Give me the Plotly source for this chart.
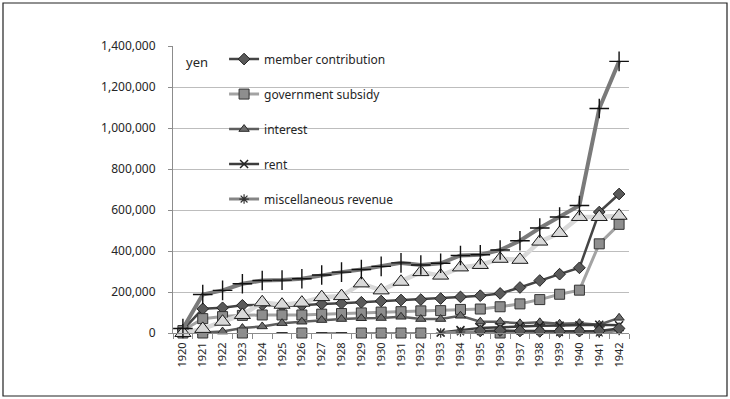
import plotly.graph_objects as go

# Revenue by year, in yen
years = [str(y) for y in range(1920, 1943)]

member_contribution = [15000, 118000, 123000, 135000, 138000, 132000, 135000, 142000, 145000, 150000, 156000, 161000,
                       163000, 168000, 176000, 182000, 193000, 222000, 256000, 287000, 318000, 590000, 678000]
government_subsidy = [12000, 70000, 80000, 86000, 88000, 88000, 88000, 92000, 95000, 98000, 102000, 104000,
                      108000, 109000, 115000, 117000, 128000, 142000, 163000, 189000, 209000, 435000, 530000]
interest = [5000, 3000, 7000, 24000, 32000, 48000, 55000, 63000, 68000, 72000, 73000, 79000,
            68000, 68000, 84000, 55000, 55000, 47000, 52000, 45000, 48000, 40000, 74000]
rent = [None] * 13 + [2000, 14000, 25000, 28000, 33000, 35000, 36000, 38000, 40000, 38000]
misc_revenue = [None] * 13 + [0, 5000, 6000, 6000, 8000, 8000, 2000, 8000, 0, 12000]

# Further series plotted without legend entries
other_a = [0, 0, None, 0, None, None, 0, None, None, 0, 0, 0, 0, None, None, None, 0, None, None, None, None, None, None]
other_b = [None] * 5 + [0, None, 0, 0] + [None] * 14
other_c = [None] * 15 + [10000, 12000, 10000, 8000, 8000, 9000, 10000, 22000]
series_6 = [0, 20000, 55000, 88000, 150000, 138000, 148000, 175000, 180000, 242000, 208000, 250000,
            297000, 280000, 320000, 332000, 362000, 357000, 446000, 488000, 566000, 566000, 572000]
total_revenue = [22000, 188000, 208000, 240000, 256000, 258000, 265000, 283000, 297000, 310000, 325000, 342000,
                 332000, 340000, 378000, 382000, 405000, 450000, 512000, 566000, 622000, 1095000, 1325000]

y_ticks = list(range(0, 1400001, 200000))

fig = go.Figure()


def add_series(values, name, line_color, line_width, symbol, size, fill, outline, outline_w, legend):
    fig.add_trace(go.Scatter(
        x=years, y=values, name=name, mode="lines+markers",
        line=dict(color=line_color, width=line_width),
        marker=dict(symbol=symbol, size=size, color=fill, line=dict(color=outline, width=outline_w)),
        showlegend=legend, legendgroup=name, cliponaxis=False, connectgaps=False,
    ))


add_series(member_contribution, "member contribution", "#454545", 2.5, "diamond", 9, "#5a5a5a", "#222222", 1, True)
add_series(government_subsidy, "government subsidy", "#a3a3a3", 3, "square", 10, "#8e8e8e", "#333333", 1, True)
add_series(interest, "interest", "#5e5e5e", 2.5, "triangle-up", 9, "#6e6e6e", "#2a2a2a", 1, True)
add_series(rent, "rent", "#3c3c3c", 2.5, "x-thin", 8, "#222222", "#222222", 1.5, True)
add_series(misc_revenue, "miscellaneous revenue", "#858585", 3, "asterisk", 8, "#333333", "#333333", 1.2, True)

add_series(other_a, "series 8", "#8a8a8a", 2, "square", 10, "#8e8e8e", "#333333", 1, False)
add_series(other_b, "series 9", "#8a8a8a", 2, "line-ew", 8, "#333333", "#333333", 2, False)
add_series(other_c, "series 10", "#3c3c3c", 2.5, "diamond", 9, "#5a5a5a", "#222222", 1, False)
add_series(series_6, "series 6", "#d9d9d9", 4.5, "triangle-up", 14, "#d9d9d9", "#1a1a1a", 1, False)
add_series(total_revenue, "total revenue", "#7a7a7a", 4, "cross-thin", 14, "#111111", "#111111", 1.4, False)

fig.update_layout(
    width=730, height=399,
    margin=dict(l=173, r=101, t=46, b=66),
    paper_bgcolor="white", plot_bgcolor="white",
    font=dict(family="Noto Sans, Open Sans, sans-serif", size=11, color="#262626"),
    legend=dict(
        x=0.112, y=1.005, xanchor="left", yanchor="top",
        bgcolor="rgba(0,0,0,0)", traceorder="grouped", tracegroupgap=16,
        font=dict(size=12, color="#262626"), itemwidth=30,
    ),
    showlegend=True,
)

fig.update_xaxes(
    type="category", range=[-0.5, len(years) - 0.5], autorange=False,
    tickangle=-90, showgrid=False,
    showline=True, linecolor="#8c8c8c", linewidth=1,
    ticks="outside", tickson="boundaries", ticklen=5, tickcolor="#8c8c8c",
    ticklabelstandoff=4,
    tickfont=dict(size=11, color="#262626"),
)
fig.update_yaxes(
    range=[0, 1400000], autorange=False, tickvals=y_ticks, tickformat=",", showgrid=True,
    gridcolor="#bdbdbd", gridwidth=1.3,
    showline=True, linecolor="#8c8c8c", linewidth=1,
    ticks="outside", ticklen=4, tickcolor="#8c8c8c", zeroline=False,
    ticklabelstandoff=10,
    tickfont=dict(size=12, color="#262626"),
)

fig.add_annotation(text="yen", xref="paper", yref="paper", x=0.0526, y=0.944,
                   xanchor="center", yanchor="middle",
                   showarrow=False, font=dict(size=13, color="#262626"))

# Outer frame around the whole chart
fig.add_shape(type="rect", xref="paper", yref="paper",
              x0=(3 - 173) / 456, x1=(727 - 173) / 456,
              y0=(333 - 396) / 287, y1=(333 - 3) / 287,
              line=dict(color="#222222", width=1.2), fillcolor="rgba(0,0,0,0)", layer="below")

fig.write_html("out.html")
